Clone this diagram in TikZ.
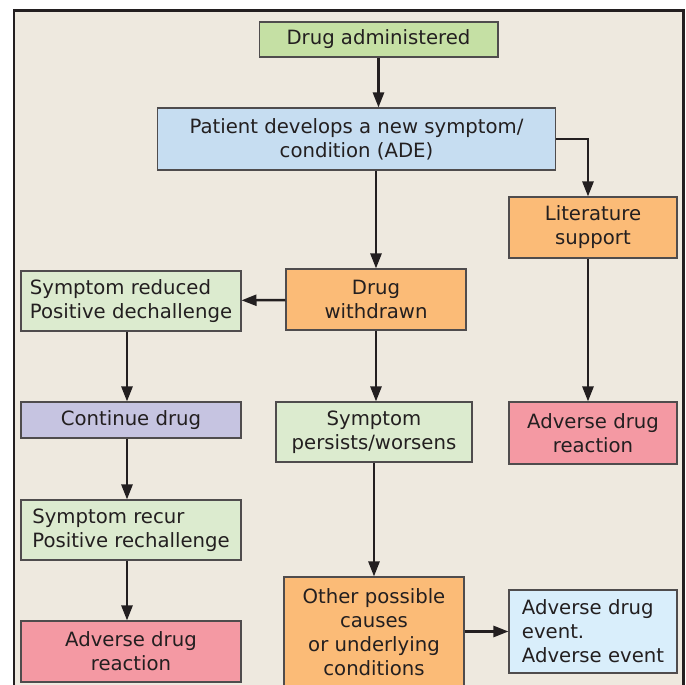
\documentclass[tikz,border=0pt]{standalone}
\usepackage{fontspec}
\setmainfont{DejaVu Sans}
\usetikzlibrary{arrows.meta,calc}
\definecolor{ink}{HTML}{231F20}
\definecolor{paper}{HTML}{EEE9DF}
\definecolor{leaf}{HTML}{C5E0A4}
\definecolor{paleleaf}{HTML}{DCEBCF}
\definecolor{sky}{HTML}{C6DDF1}
\definecolor{palesky}{HTML}{D9EEFB}
\definecolor{apricot}{HTML}{FBBB77}
\definecolor{lilac}{HTML}{C6C4E1}
\definecolor{rose}{HTML}{F499A3}

\begin{document}
\begin{tikzpicture}[x=0.02cm,y=-0.02cm,>={Triangle[length=3mm,width=2.2mm]},
  font=\fontsize{11.2}{13.6}\selectfont,
  box/.style={draw=ink!80,line width=0.6pt,text=ink,inner sep=2pt,align=center},
  flow/.style={ink,line width=1.4pt,->}]
  \useasboundingbox (0,0) rectangle (686,685);
  \clip (0,0) rectangle (686,685);
  \draw[ink,line width=1.7pt,fill=paper] (14,11) rectangle (683,720);

  % boxes
  \node[box,fill=leaf,minimum width=4.78cm,minimum height=0.7cm] (adm) at (378.5,39.5) {Drug administered};
  \node[box,fill=sky,minimum width=7.98cm,minimum height=1.24cm] (pat) at (356.5,139) {Patient develops a new symptom/\\condition (ADE)};
  \node[box,fill=apricot,minimum width=3.36cm,minimum height=1.22cm] (lit) at (593,227.5) {Literature\\support};
  \node[box,fill=apricot,minimum width=3.6cm,minimum height=1.22cm] (wdr) at (376,299.5) {Drug\\withdrawn};
  \node[box,fill=paleleaf,minimum width=4.4cm,minimum height=1.2cm,align=left] (red) at (131,301) {Symptom reduced\\Positive dechallenge};
  \node[box,fill=lilac,minimum width=4.4cm,minimum height=0.72cm] (cont) at (131,420) {Continue drug};
  \node[box,fill=paleleaf,minimum width=3.92cm,minimum height=1.2cm] (pers) at (374,432) {Symptom\\persists/worsens};
  \node[box,fill=rose,minimum width=3.36cm,minimum height=1.24cm] (adrR) at (593,433) {Adverse drug\\reaction};
  \node[box,fill=paleleaf,minimum width=4.4cm,minimum height=1.2cm,align=left] (rec) at (131,530) {Symptom recur\\Positive rechallenge};
  \node[box,fill=rose,minimum width=4.4cm,minimum height=1.22cm] (adrL) at (131,651.5) {Adverse drug\\reaction};
  \node[box,fill=apricot,minimum width=3.6cm,minimum height=2.2cm] (oth) at (374,632) {Other possible\\causes\\or underlying\\conditions};
  \node[box,fill=palesky,minimum width=3.36cm,minimum height=1.66cm,align=left] (ade) at (593,631.5) {Adverse drug\\event.\\Adverse event};

  % connectors
  \draw[flow] (adm) -- (adm|-pat.north);
  \draw[flow] (pat.east) -| ($(lit.north)+(-5,0)$);
  \draw[flow] (pat.south-|wdr) -- (wdr.north);
  \draw[flow] (wdr) -- (red);
  \draw[flow] (wdr) -- (wdr|-pers.north);
  \draw[flow] ($(lit.south)+(-5,0)$) -- ($(adrR.north)+(-5,0)$);
  \draw[flow] ($(red.south)+(-4,0)$) -- ($(cont.north)+(-4,0)$);
  \draw[flow] ($(cont.south)+(-4,0)$) -- ($(rec.north)+(-4,0)$);
  \draw[flow] ($(rec.south)+(-4,0)$) -- ($(adrL.north)+(-4,0)$);
  \draw[flow] (pers) -- (pers|-oth.north);
  \draw[flow] (oth.east|-ade) -- (ade);
\end{tikzpicture}
\end{document}
